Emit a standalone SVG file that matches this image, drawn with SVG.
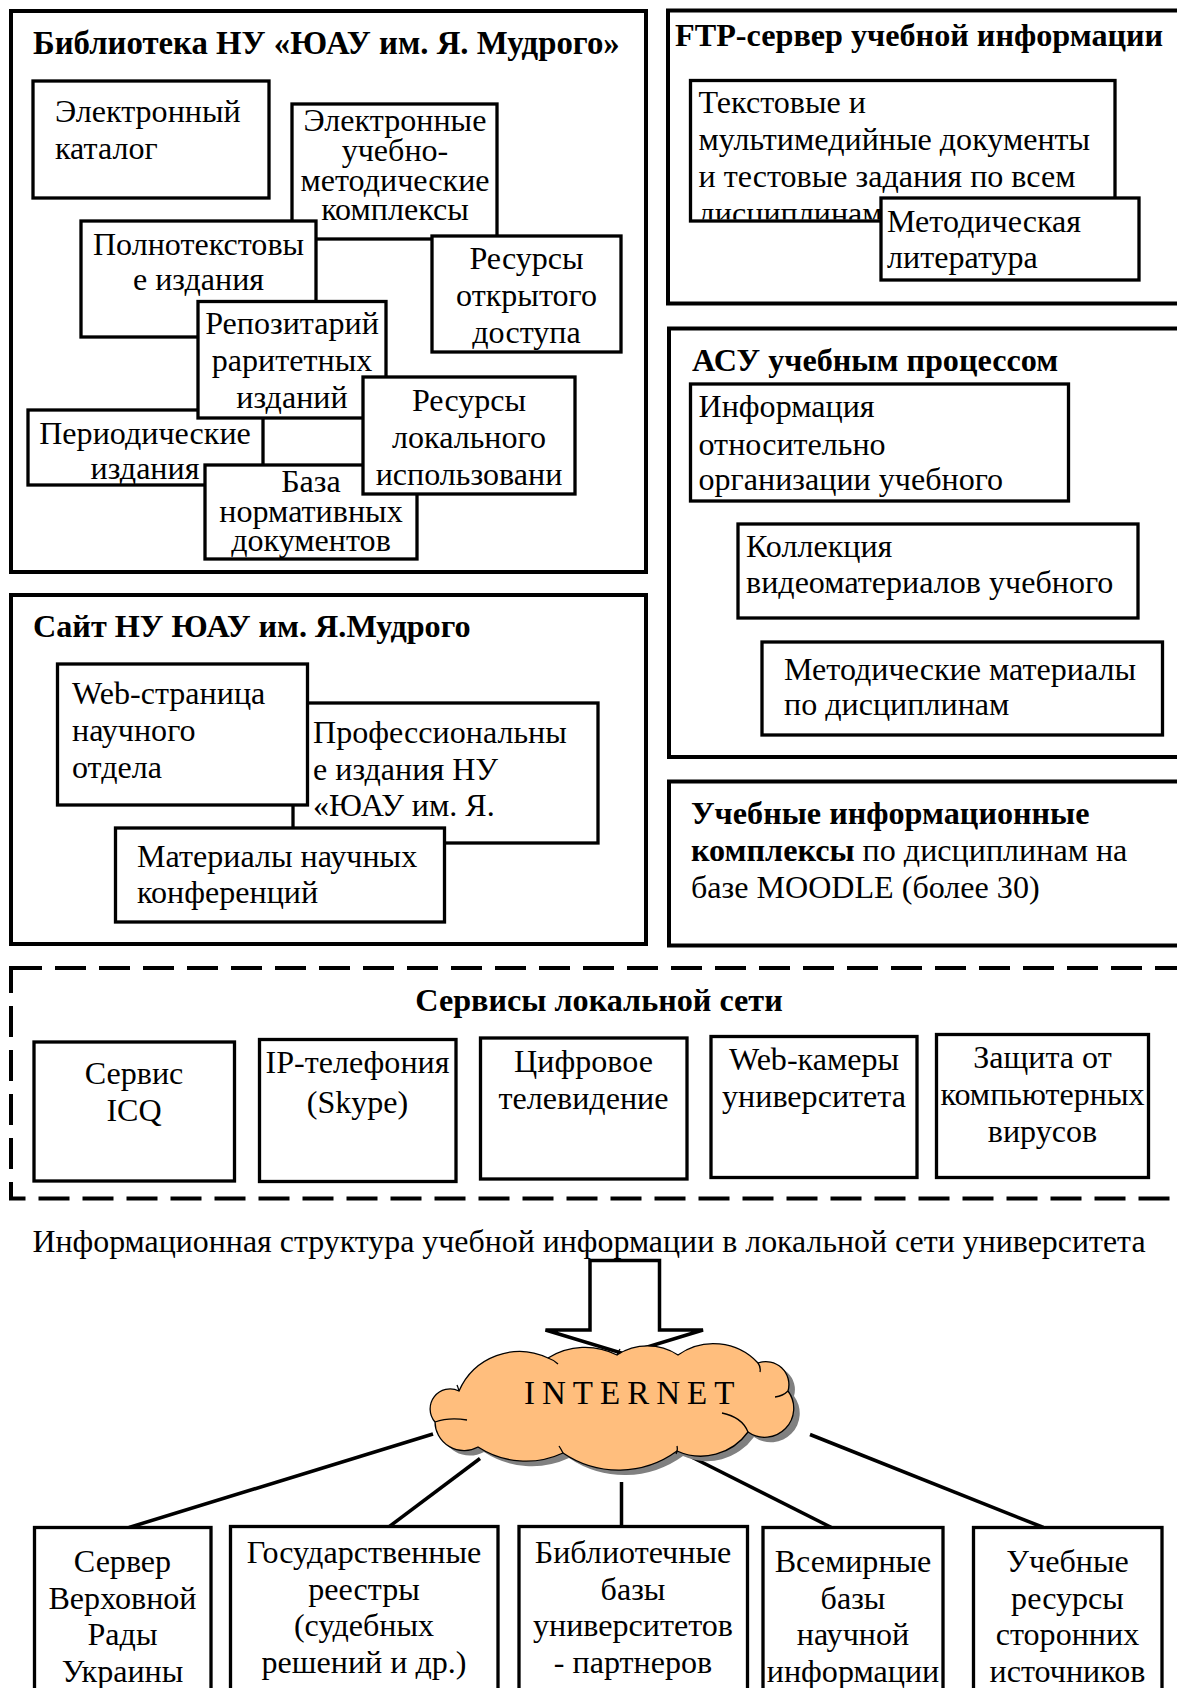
<svg xmlns="http://www.w3.org/2000/svg" width="1177" height="1688" viewBox="0 0 1177 1688">
<defs>
<style>
.outer{fill:#fff;stroke:#000;stroke-width:4}
.box{fill:#fff;stroke:#000;stroke-width:3.3}
.dash{fill:none;stroke:#000;stroke-width:4;stroke-dasharray:31 13}
.t{font-family:"Liberation Serif","Times New Roman",serif;font-size:32.1px;fill:#000}
.b{font-weight:bold;font-size:32.2px}
.c{text-anchor:middle}
.conn{stroke:#000;stroke-width:3.5;fill:none}
.inner{fill:none;stroke:#000;stroke-width:1.3}
</style>
<clipPath id="clipTekst"><rect x="692" y="82" width="421" height="137.5"/></clipPath>
<path id="cloudShape" d="M459,1391 A66,66 0 0 1 548,1358 A70,70 0 0 1 617,1355 A56,56 0 0 1 678,1355 A61,61 0 0 1 758,1363 A23,23 0 0 1 788,1391 A29,29 0 0 1 748,1432 A58,58 0 0 1 677,1451 A99,99 0 0 1 563,1453 A88,88 0 0 1 478,1447 A29,29 0 0 1 435,1422 A20,20 0 0 1 459,1391 Z"/>
</defs>
<rect width="1177" height="1688" fill="#fff"/>

<!-- Library -->
<g id="library">
<rect class="outer" x="11" y="11" width="635" height="561"/>
<text class="t b" x="33" y="54" style="font-size:32.8px">Библиотека НУ «ЮАУ им. Я. Мудрого»</text>
</g>
<g id="ek">
<rect class="box" x="33" y="81" width="236" height="117"/>
<text class="t" x="55" y="122">Электронный</text>
<text class="t" x="55" y="159">каталог</text>
</g>
<g id="eumk">
<rect class="box" x="292" y="104" width="205" height="135"/>
<text class="t c" x="395" y="131">Электронные</text>
<text class="t c" x="395" y="161">учебно-</text>
<text class="t c" x="395" y="190.5">методические</text>
<text class="t c" x="395" y="220">комплексы</text>
</g>
<g id="rok">
<rect class="box" x="432" y="236" width="189" height="116"/>
<text class="t c" x="526.5" y="269">Ресурсы</text>
<text class="t c" x="526.5" y="306">открытого</text>
<text class="t c" x="526.5" y="343">доступа</text>
</g>
<g id="poln">
<rect class="box" x="81" y="221" width="235" height="116"/>
<text class="t c" x="198.5" y="255">Полнотекстовы</text>
<text class="t c" x="198.5" y="290">е издания</text>
</g>
<g id="period">
<rect class="box" x="28" y="410" width="235" height="75"/>
<text class="t c" x="145" y="444">Периодические</text>
<text class="t c" x="145" y="479">издания</text>
</g>
<g id="repo">
<rect class="box" x="198" y="301.5" width="188" height="116.5"/>
<text class="t c" x="292" y="334">Репозитарий</text>
<text class="t c" x="292" y="371">раритетных</text>
<text class="t c" x="292" y="408">изданий</text>
</g>
<g id="baza">
<rect class="box" x="205" y="465" width="212" height="94"/>
<text class="t c" x="311" y="492">База</text>
<text class="t c" x="311" y="522">нормативных</text>
<text class="t c" x="311" y="551">документов</text>
</g>
<g id="rll">
<rect class="box" x="363" y="377" width="212" height="117"/>
<text class="t c" x="469" y="411">Ресурсы</text>
<text class="t c" x="469" y="448">локального</text>
<text class="t c" x="469" y="485">использовани</text>
</g>

<!-- Site -->
<g id="site">
<rect class="outer" x="11" y="595" width="635" height="349"/>
<text class="t b" x="33" y="637">Сайт НУ ЮАУ им. Я.Мудрого</text>
</g>
<g id="prof">
<rect class="box" x="293" y="703" width="305" height="140"/>
<text class="t" x="313" y="743">Профессиональны</text>
<text class="t" x="313" y="780">е издания НУ</text>
<text class="t" x="313" y="816">«ЮАУ им. Я.</text>
</g>
<g id="webpage">
<rect class="box" x="57.5" y="664" width="250" height="141"/>
<text class="t" x="72" y="704">Web-страница</text>
<text class="t" x="72" y="741">научного</text>
<text class="t" x="72" y="778">отдела</text>
</g>
<g id="mat">
<rect class="box" x="115.5" y="828" width="329" height="94"/>
<text class="t" x="137" y="867">Материалы научных</text>
<text class="t" x="137" y="903">конференций</text>
</g>

<!-- FTP -->
<g id="ftp">
<rect class="outer" x="668" y="10.5" width="530" height="293"/>
<text class="t b" x="675" y="46">FTP-сервер учебной информации</text>
</g>
<g id="tekst">
<rect class="box" x="690.5" y="80.5" width="424.5" height="140.5"/>
<g clip-path="url(#clipTekst)">
<text class="t" x="698.5" y="113">Текстовые и</text>
<text class="t" x="698.5" y="150">мультимедийные документы</text>
<text class="t" x="698.5" y="187">и тестовые задания по всем</text>
<text class="t" x="698.5" y="224">дисциплинам</text>
</g>
</g>
<g id="metlit">
<rect class="box" x="881" y="198" width="258" height="82"/>
<text class="t" x="887" y="232">Методическая</text>
<text class="t" x="887" y="268">литература</text>
</g>

<!-- ACU -->
<g id="acu">
<rect class="outer" x="669" y="328.5" width="530" height="428.5"/>
<text class="t b" x="692" y="371">АСУ учебным процессом</text>
</g>
<g id="info">
<rect class="box" x="690.5" y="384" width="378" height="117"/>
<text class="t" x="698.5" y="417">Информация</text>
<text class="t" x="698.5" y="455">относительно</text>
<text class="t" x="698.5" y="490">организации учебного</text>
</g>
<g id="koll">
<rect class="box" x="738" y="524" width="400" height="94"/>
<text class="t" x="746" y="557">Коллекция</text>
<text class="t" x="746" y="593">видеоматериалов учебного</text>
</g>
<g id="metmat">
<rect class="box" x="762" y="642" width="400.5" height="93"/>
<text class="t" x="784" y="680">Методические материалы</text>
<text class="t" x="784" y="715">по дисциплинам</text>
</g>

<!-- MOODLE -->
<g id="moodle">
<rect class="outer" x="669" y="781.5" width="530" height="164"/>
<text class="t b" x="691" y="824">Учебные информационные</text>
<text class="t" x="691" y="861"><tspan class="b">комплексы</tspan> по дисциплинам на</text>
<text class="t" x="691" y="898">базе MOODLE (более 30)</text>
</g>

<!-- Local services -->
<g id="services">
<rect class="dash" x="11" y="968" width="1190" height="230.5"/>
<text class="t b c" x="599" y="1011">Сервисы локальной сети</text>
</g>
<g id="icq">
<rect class="box" x="34" y="1042" width="200.5" height="139"/>
<text class="t c" x="134" y="1083.5">Сервис</text>
<text class="t c" x="134" y="1121">ICQ</text>
</g>
<g id="ip">
<rect class="box" x="259.5" y="1039.5" width="196.5" height="142"/>
<text class="t c" x="357.5" y="1073">IP-телефония</text>
<text class="t c" x="357.5" y="1112.5">(Skype)</text>
</g>
<g id="tv">
<rect class="box" x="480.5" y="1038" width="206.5" height="141"/>
<text class="t c" x="583.5" y="1071.5">Цифровое</text>
<text class="t c" x="583.5" y="1108.5">телевидение</text>
</g>
<g id="webcam">
<rect class="box" x="711" y="1036.5" width="206" height="141"/>
<text class="t c" x="814" y="1069.5">Web-камеры</text>
<text class="t c" x="814" y="1106.5">университета</text>
</g>
<g id="antivirus">
<rect class="box" x="936.5" y="1034.5" width="212" height="143"/>
<text class="t c" x="1042.5" y="1068">Защита от</text>
<text class="t c" x="1042.5" y="1104.5">компьютерных</text>
<text class="t c" x="1042.5" y="1141.5">вирусов</text>
</g>

<!-- Caption -->
<g id="caption">
<text class="t c" x="589" y="1252" style="font-size:31.9px">Информационная структура учебной информации в локальной сети университета</text>
</g>

<!-- Connectors -->
<g id="connectors">
<polygon points="590,1260.5 659.5,1260.5 659.5,1330 703,1330 624.5,1354 545.5,1330 590,1330" fill="#fff" stroke="#000" stroke-width="3.5" stroke-linejoin="miter"/>
<line class="conn" x1="433" y1="1434" x2="129" y2="1527.5"/>
<line class="conn" x1="480" y1="1458.5" x2="388" y2="1527.5"/>
<line class="conn" x1="621.5" y1="1482" x2="621.5" y2="1527"/>
<line class="conn" x1="691.5" y1="1457" x2="831.5" y2="1527.5"/>
<line class="conn" x1="810" y1="1434.5" x2="1043.5" y2="1527.5"/>
</g>

<!-- Internet cloud -->
<g id="internet">
<use href="#cloudShape" transform="translate(6,5)" fill="#808080"/>
<use href="#cloudShape" fill="#FFBE7D" stroke="#000" stroke-width="1.3"/>
<path class="inner" d="M548,1358 q6,2 10,6 M758,1363 q3,4 2,9 M775,1397 q8,-1 13,-6 M722,1413 q20,4 26,19 M677,1446 q1,5 -1,8 M563,1453 q-2,-4 -4,-7 M467,1420 q-18,-3 -32,2 M459,1391 q-1,-4 -2,-6 M617,1355 q1,-3 3,-6"/>
<text x="524" y="1404" style="font-family:'Liberation Serif','Times New Roman',serif;font-size:33px;letter-spacing:7px" fill="#000">INTERNET</text>
</g>

<!-- Bottom resources -->
<g id="rada">
<rect class="box" x="34.5" y="1527.5" width="176.5" height="200"/>
<text class="t c" x="122.5" y="1572">Сервер</text>
<text class="t c" x="122.5" y="1608.5">Верховной</text>
<text class="t c" x="122.5" y="1645">Рады</text>
<text class="t c" x="122.5" y="1681.5">Украины</text>
</g>
<g id="registry">
<rect class="box" x="230.5" y="1526.5" width="267.5" height="200"/>
<text class="t c" x="364" y="1563">Государственные</text>
<text class="t c" x="364" y="1599.5">реестры</text>
<text class="t c" x="364" y="1636">(судебных</text>
<text class="t c" x="364" y="1672.5">решений и др.)</text>
</g>
<g id="libdb">
<rect class="box" x="519" y="1526.5" width="228.5" height="200"/>
<text class="t c" x="633" y="1563">Библиотечные</text>
<text class="t c" x="633" y="1599.5">базы</text>
<text class="t c" x="633" y="1636">университетов</text>
<text class="t c" x="633" y="1672.5">- партнеров</text>
</g>
<g id="worlddb">
<rect class="box" x="763" y="1527.5" width="180" height="200"/>
<text class="t c" x="853" y="1572">Всемирные</text>
<text class="t c" x="853" y="1608.5">базы</text>
<text class="t c" x="853" y="1645">научной</text>
<text class="t c" x="853" y="1681.5">информации</text>
</g>
<g id="extres">
<rect class="box" x="973.5" y="1527.5" width="188.5" height="200"/>
<text class="t c" x="1067.5" y="1572">Учебные</text>
<text class="t c" x="1067.5" y="1608.5">ресурсы</text>
<text class="t c" x="1067.5" y="1645">сторонних</text>
<text class="t c" x="1067.5" y="1681.5">источников</text>
</g>
</svg>
